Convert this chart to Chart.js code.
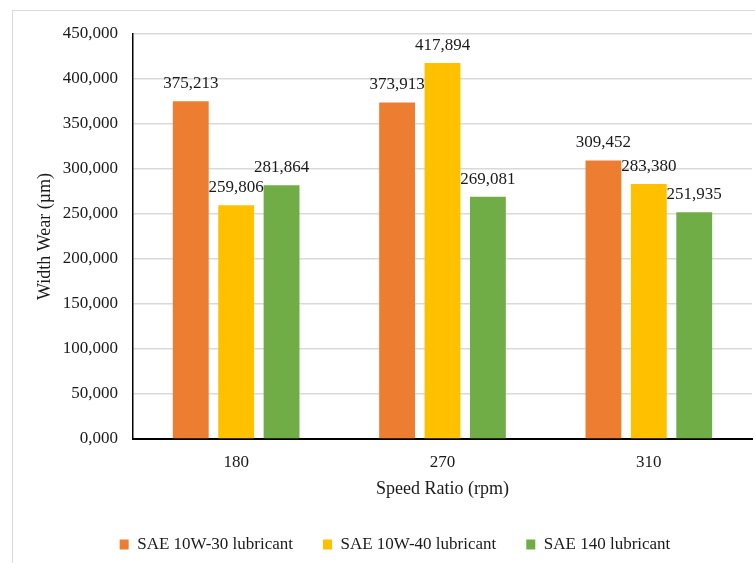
<!DOCTYPE html>
<html>
<head>
<meta charset="utf-8">
<script src="https://cdn.jsdelivr.net/npm/chart.js@4"></script>
<style>
    html, body { margin: 0; padding: 0; background: #fff; overflow: hidden; }
    #frame { position: absolute; left: 12px; top: 10px; width: 820px; height: 620px; border: 1px solid #d9d9d9; box-sizing: border-box; }
    #wrap { position: absolute; left: 0; top: 0; width: 790px; height: 563px; }
</style>
</head>
<body>
<div id="frame"></div>
<div id="wrap"><canvas id="chart"></canvas></div>
<script>
// Width wear per speed ratio, three lubricants
const categories = ['180', '270', '310'];
const seriesNames = ['SAE 10W-30 lubricant', 'SAE 10W-40 lubricant', 'SAE 140 lubricant'];
const sae10w30 = [375.213, 373.913, 309.452];
const sae10w40 = [259.806, 417.894, 283.380];
const sae140 = [281.864, 269.081, 251.935];
const seriesColors = ['#ED7D31', '#FFC000', '#70AD47'];

const FONT = "'Liberation Serif', 'Times New Roman', serif";
const fmt = v => Number(v).toFixed(3).replace('.', ',');

// Draws the value above every bar
const valueLabels = {
    id: 'valueLabels',
    afterDatasetsDraw(chart) {
        const ctx = chart.ctx;
        ctx.save();
        ctx.font = '17px ' + FONT;
        ctx.fillStyle = '#1a1a1a';
        ctx.textAlign = 'center';
        ctx.textBaseline = 'alphabetic';
        chart.data.datasets.forEach((ds, i) => {
            chart.getDatasetMeta(i).data.forEach((bar, j) => {
                ctx.fillText(fmt(ds.data[j]), bar.x, bar.y - 13);
            });
        });
        ctx.restore();
    }
};

const ctx = document.getElementById('chart').getContext('2d');
new Chart(ctx, {
    type: 'bar',
    data: {
        labels: categories,
        datasets: [sae10w30, sae10w40, sae140].map((vals, i) => ({
            label: seriesNames[i],
            data: vals,
            backgroundColor: seriesColors[i],
            borderWidth: 0,
            categoryPercentage: 0.66,
            barPercentage: 0.79
        }))
    },
    options: {
        responsive: true,
        maintainAspectRatio: false,
        animation: false,
        layout: { padding: { left: 0, top: 34, right: 0, bottom: 0 } },
        plugins: {
            tooltip: { enabled: false },
            legend: {
                position: 'bottom',
                labels: {
                    color: '#1a1a1a',
                    font: { family: FONT, size: 17 },
                    boxWidth: 9,
                    boxHeight: 10,
                    padding: 30
                }
            }
        },
        scales: {
            x: {
                grid: { display: false, drawTicks: false },
                border: { display: true, color: '#000', width: 2 },
                ticks: { color: '#1a1a1a', font: { family: FONT, size: 17 }, padding: 13 },
                title: {
                    display: true,
                    text: 'Speed Ratio (rpm)',
                    color: '#1a1a1a',
                    font: { family: FONT, size: 18 },
                    padding: { top: 4, bottom: 6 }
                },
                afterFit(scale) { scale.height = 67; }
            },
            y: {
                min: 0,
                max: 450,
                grid: { color: '#d9d9d9', lineWidth: 1.5, drawTicks: false },
                border: { display: true, color: '#000', width: 1.5 },
                ticks: {
                    stepSize: 50,
                    color: '#1a1a1a',
                    font: { family: FONT, size: 17 },
                    padding: 15,
                    callback: v => fmt(v)
                },
                title: {
                    display: true,
                    text: 'Width Wear (µm)',
                    color: '#1a1a1a',
                    font: { family: FONT, size: 18 },
                    padding: { top: 34, bottom: 0 }
                },
                afterFit(scale) { scale.width = 133; }
            },
            // empty right-hand axis: keeps the plot ending at the window edge
            // while the legend stays centred on the whole (cropped) chart box
            yRight: {
                position: 'right',
                display: true,
                grid: { display: false, drawTicks: false },
                border: { display: false },
                ticks: { display: false },
                afterFit(scale) { scale.width = 38; }
            }
        }
    },
    plugins: [valueLabels]
});
</script>
</body>
</html>
